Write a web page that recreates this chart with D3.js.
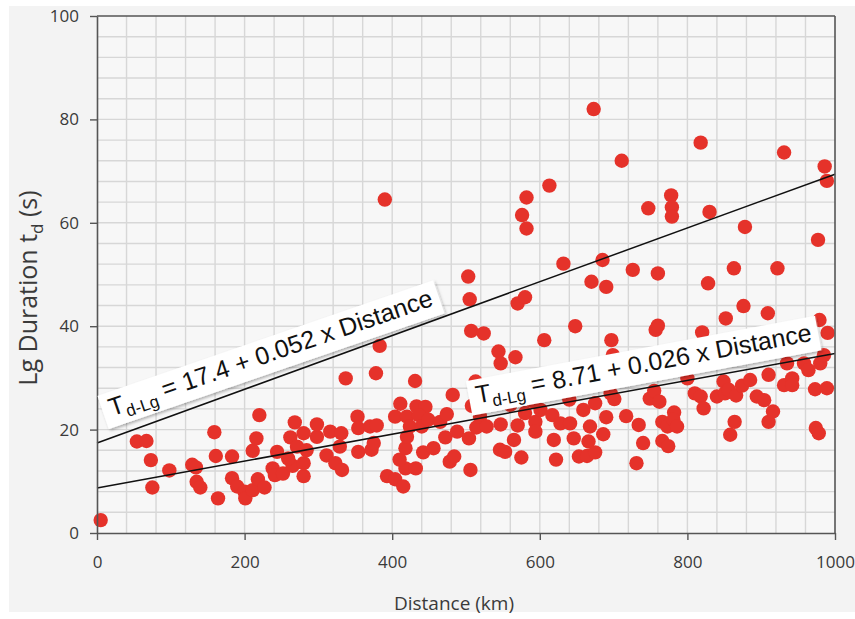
<!DOCTYPE html>
<html>
<head>
<meta charset="utf-8">
<script src="https://cdn.jsdelivr.net/npm/d3@7"></script>
<style>
  html, body { margin: 0; padding: 0; background: #ffffff; }
  svg { display: block; }
</style>
</head>
<body>
<svg id="chart" width="855" height="619"></svg>
<script>
// Epicentral distance (km) of each record
const distanceKm = [
  5, 54, 67, 73, 75, 98, 129, 134, 135, 140, 159, 161, 164, 183, 183, 190, 200, 201, 211, 211,
  216, 220, 218, 227, 238, 241, 244, 252, 265, 259, 262, 268, 271, 280, 280, 284, 280, 298, 298, 311,
  316, 323, 332, 329, 331, 337, 353, 354, 354, 370, 372, 375, 378, 379, 383, 390, 393, 404, 415, 418,
  410, 404, 411, 418, 420, 420, 424, 431, 433, 445, 436, 440, 442, 432, 449, 456, 465, 472, 474, 478,
  484, 482, 488, 503, 505, 507, 504, 506, 508, 514, 513, 519, 524, 528, 544, 547, 546, 553, 547, 565,
  570, 567, 570, 580, 575, 576, 582, 582, 580, 594, 594, 601, 606, 613, 617, 619, 622, 628, 632, 641,
  646, 648, 653, 659, 664, 666, 668, 670, 673, 675, 675, 685, 686, 690, 690, 696, 697, 699, 701, 711,
  717, 726, 731, 734, 740, 747, 749, 755, 757, 760, 760, 762, 766, 766, 773, 774, 778, 779, 779, 782,
  781, 786, 800, 810, 818, 818, 822, 820, 828, 830, 840, 849, 851, 852, 856, 858, 863, 864, 866, 874,
  876, 878, 885, 894, 904, 909, 910, 910, 916, 922, 931, 931, 935, 942, 942, 958, 964, 973, 974, 978,
  977, 979, 980, 985, 986, 989, 989, 990, 560, 590, 640
];
// Lg-wave duration (s) of each record
const durationSec = [
  2.5, 17.7, 17.8, 14.1, 8.8, 12.1, 13.2, 12.7, 9.9, 8.8, 19.5, 14.9, 6.7, 14.8, 10.6, 9.0, 8.0, 6.7, 8.3, 15.9,
  18.3, 22.8, 10.4, 8.8, 12.5, 11.2, 15.7, 11.5, 13.0, 14.4, 18.5, 21.4, 16.7, 11.0, 13.5, 16.0, 19.3, 18.6, 21.0, 15.0,
  19.6, 13.5, 12.2, 16.7, 19.3, 29.9, 22.5, 20.3, 15.7, 20.6, 16.1, 17.4, 30.9, 20.8, 36.2, 64.5, 11.0, 10.4, 9.0, 12.5,
  14.2, 22.5, 25.0, 16.4, 18.6, 22.5, 20.6, 29.4, 24.5, 24.4, 22.8, 20.6, 15.6, 12.5, 21.9, 16.4, 21.5, 18.5, 23.0, 13.8,
  14.8, 26.7, 19.6, 49.6, 45.2, 39.1, 18.3, 12.2, 24.6, 20.4, 29.3, 22.5, 38.6, 20.6, 35.1, 32.8, 16.1, 15.7, 21.0, 18.0,
  20.8, 34.0, 44.4, 45.6, 14.6, 61.5, 64.9, 58.9, 23.2, 21.5, 19.6, 23.8, 37.3, 67.2, 22.8, 18.0, 14.2, 21.2, 52.1, 21.2,
  18.3, 40.0, 14.8, 23.8, 14.9, 17.7, 20.6, 48.6, 82.0, 15.6, 25.1, 52.8, 19.1, 22.4, 47.6, 27.0, 37.3, 34.4, 25.9, 72.0,
  22.6, 50.9, 13.5, 20.9, 17.4, 62.8, 26.0, 27.5, 39.3, 40.1, 50.2, 25.4, 21.5, 17.8, 20.6, 16.8, 65.3, 63.0, 61.2, 23.3,
  21.9, 20.6, 29.9, 27.0, 75.5, 26.4, 24.1, 38.8, 48.3, 62.1, 26.4, 29.3, 27.0, 41.5, 27.7, 19.0, 51.2, 21.5, 26.6, 28.5,
  43.9, 59.2, 29.6, 26.4, 25.7, 42.5, 30.6, 21.5, 23.5, 51.2, 73.6, 28.6, 32.8, 29.9, 28.6, 32.8, 31.5, 27.8, 20.3, 19.3,
  56.7, 41.2, 32.8, 34.4, 70.9, 68.1, 28.0, 38.7, 24.8, 25.5, 25.8
];

// Axis ticks
const xTicks = [0, 200, 400, 600, 800, 1000];
const yTicks = [0, 20, 40, 60, 80, 100];

// Linear fits T = a + b * Distance
const fitIntercepts = [17.4, 8.71];
const fitSlopes = [0.052, 0.026];
const fitTexts = [" = 17.4 + 0.052 x Distance", " = 8.71 + 0.026 x Distance"];

const svg = d3.select("#chart");
const W = 855, H = 619;
const plotLeft = 97, plotRight = 835, plotTop = 16, plotBottom = 533;

const x = d3.scaleLinear().domain([0, 1000]).range([plotLeft, plotRight]);
const y = d3.scaleLinear().domain([0, 100]).range([plotBottom, plotTop]);

// Page panel
svg.append("rect").attr("x", 0).attr("y", 0).attr("width", W).attr("height", H).attr("fill", "#ffffff");
svg.append("rect").attr("x", 9).attr("y", 6).attr("width", W - 9).attr("height", 606).attr("fill", "#f3f3f3");

// Plot background
svg.append("rect")
  .attr("x", plotLeft).attr("y", plotTop)
  .attr("width", plotRight - plotLeft).attr("height", plotBottom - plotTop)
  .attr("fill", "#f7f7f7");

// Grid: every 40 km and every 4 s
const grid = svg.append("g").attr("stroke", "#d7d7d7").attr("stroke-width", 1.4);
grid.selectAll("line.v").data(d3.range(40, 1000, 40)).join("line")
  .attr("class", "v")
  .attr("x1", d => x(d)).attr("x2", d => x(d))
  .attr("y1", plotTop).attr("y2", plotBottom);
grid.selectAll("line.h").data(d3.range(4, 100, 4)).join("line")
  .attr("class", "h")
  .attr("x1", plotLeft).attr("x2", plotRight)
  .attr("y1", d => y(d)).attr("y2", d => y(d));

// Data points
svg.append("g").selectAll("circle")
  .data(distanceKm.map((d, i) => [d, durationSec[i]]))
  .join("circle")
  .attr("cx", d => x(d[0]))
  .attr("cy", d => y(d[1]))
  .attr("r", 7.2)
  .attr("fill", "#e5322a");

// Fit lines
const fitLine = (a, b) => d3.line()
  .x(d => x(d))
  .y(d => y(a + b * d))([0, 1000]);
fitIntercepts.forEach((a, i) => {
  svg.append("path")
    .attr("d", fitLine(a, fitSlopes[i]))
    .attr("fill", "none")
    .attr("stroke", "#111")
    .attr("stroke-width", 1.5);
});

// Frame
svg.append("g").attr("stroke", "#555").attr("stroke-width", 1.6).call(g => {
  g.append("line").attr("x1", plotLeft).attr("x2", plotRight).attr("y1", plotTop).attr("y2", plotTop);
  g.append("line").attr("x1", plotRight).attr("x2", plotRight).attr("y1", plotTop).attr("y2", plotBottom);
});

// Axes
const tickFont = "'Open Sans', 'Noto Sans', sans-serif";
const xAxis = svg.append("g")
  .attr("transform", `translate(0,${plotBottom})`)
  .call(d3.axisBottom(x).tickValues(xTicks).tickFormat(d3.format("d")).tickSize(7).tickSizeOuter(0).tickPadding(16));
const yAxis = svg.append("g")
  .attr("transform", `translate(${plotLeft},0)`)
  .call(d3.axisLeft(y).tickValues(yTicks).tickFormat(d3.format("d")).tickSize(7).tickSizeOuter(0).tickPadding(11));
[xAxis, yAxis].forEach(ax => {
  ax.select(".domain").attr("stroke", "#555").attr("stroke-width", 1.6);
  ax.selectAll(".tick line").attr("stroke", "#555").attr("stroke-width", 1.4);
  ax.selectAll(".tick text")
    .attr("fill", "#3a3a3a")
    .style("font-family", tickFont)
    .style("font-size", "17px");
});

// Axis titles
svg.append("text")
  .attr("x", 454).attr("y", 610)
  .attr("text-anchor", "middle")
  .attr("fill", "#3a3a3a")
  .style("font-family", tickFont)
  .style("font-size", "19px")
  .text("Distance (km)");

const yt = svg.append("text")
  .attr("transform", "translate(37,288) rotate(-90)")
  .attr("text-anchor", "middle")
  .attr("fill", "#3a3a3a")
  .style("font-family", tickFont)
  .style("font-size", "25px")
  .style("white-space", "pre");
yt.append("tspan").text("Lg Duration t");
yt.append("tspan").attr("dy", 6).style("font-size", "17px").text("d");
yt.append("tspan").attr("dy", -6).text(" (s)");

// Equation labels on white boxes
const defs = svg.append("defs");
const f = defs.append("filter").attr("id", "boxShadow")
  .attr("x", "-10%").attr("y", "-40%").attr("width", "120%").attr("height", "180%");
f.append("feDropShadow").attr("dx", 1).attr("dy", 2).attr("stdDeviation", 1.6)
  .attr("flood-color", "#000").attr("flood-opacity", 0.3);

const labelAnchor = [29, 519];   // distance along each fit where its label starts
const labelAngle = [-19, -10.6];
const labelGap = [20, 15];
fitIntercepts.forEach((a, i) => {
  const d0 = labelAnchor[i];
  const g = svg.append("g")
    .attr("transform", `translate(${x(d0)},${y(a + fitSlopes[i] * d0)}) rotate(${labelAngle[i]}) translate(0,${-labelGap[i]})`);
  const box = g.append("rect").attr("fill", "#ffffff").attr("filter", "url(#boxShadow)");
  const t = g.append("text")
    .attr("fill", "#111")
    .style("font-family", "'Liberation Sans', Arial, sans-serif")
    .style("font-size", "25px")
    .style("white-space", "pre");
  t.append("tspan").text("T");
  t.append("tspan").attr("dy", 6).style("font-size", "17px").text("d-Lg");
  t.append("tspan").attr("dy", -6).text(fitTexts[i]);
  const bb = t.node().getBBox();
  box.attr("x", bb.x - 7).attr("y", bb.y - 1)
    .attr("width", bb.width + 14).attr("height", bb.height + 2);
});
</script>
</body>
</html>
